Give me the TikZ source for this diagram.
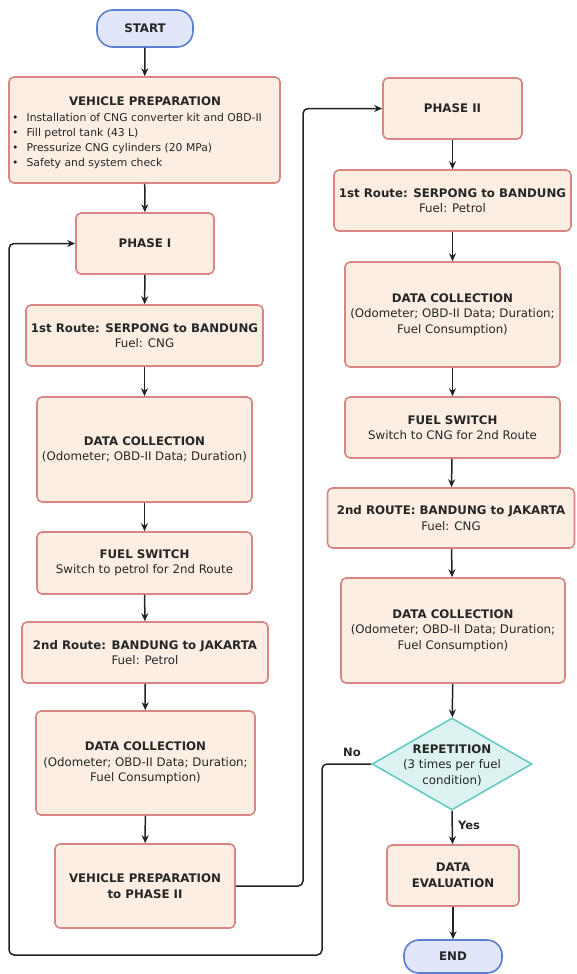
\documentclass[tikz,border=0pt]{standalone}
\usepackage{fontspec}
\setmainfont{DejaVu Sans}
\usetikzlibrary{shapes.geometric, arrows.meta}
\definecolor{boxfill}{HTML}{FCEEE2}
\definecolor{boxdraw}{HTML}{D98682}
\definecolor{diafill}{HTML}{DDF3F1}
\definecolor{diadraw}{HTML}{66CCC2}
\definecolor{termfill}{HTML}{E1E6FA}
\definecolor{termdraw}{HTML}{5A7FD0}
\definecolor{linec}{HTML}{222222}
\definecolor{txt}{HTML}{262626}
\tikzset{
  txtfont/.style={font=\fontsize{11.8}{15.5}\selectfont, text=txt},
  box/.style={draw=boxdraw, fill=boxfill, line width=1.6pt, rounded corners=5pt, align=center, inner sep=2pt, txtfont},
  term/.style={draw=termdraw, fill=termfill, line width=1.6pt, rounded corners=16pt, align=center, txtfont, font=\fontsize{11.8}{15.5}\selectfont\bfseries},
  dia/.style={diamond, draw=diadraw, fill=diafill, line width=1.6pt, inner sep=0pt},
  arr/.style={-{Stealth[length=8pt,width=7pt]}, line width=1.5pt, draw=linec},
  lbl/.style={txtfont, font=\fontsize{11.5}{14}\selectfont\bfseries, inner sep=0pt},
}
\begin{document}
\begin{tikzpicture}[x=1pt, y=-1pt]
\useasboundingbox (0,0) rectangle (576,974);

% left column
\node[term, minimum width=96pt, minimum height=37pt] (start) at (145,28.5) {START};
\node[box, minimum width=271pt, minimum height=106pt] (vp) at (144.5,130) {};
\node[txtfont, inner sep=0pt] (vpt) at (145,101) {\bfseries VEHICLE PREPARATION};
\node[txtfont, inner sep=0pt, align=left, anchor=west, font=\fontsize{10.8}{15}\selectfont] (vpb) at (12,141) {%
\textbullet\hspace{8pt}Installation of CNG converter kit and OBD-II\\
\textbullet\hspace{8pt}Fill petrol tank (43 L)\\
\textbullet\hspace{8pt}Pressurize CNG cylinders (20 MPa)\\
\textbullet\hspace{8pt}Safety and system check};

\node[box, minimum width=138pt, minimum height=61pt] (p1) at (145,243.5) {\bfseries PHASE I};
\node[box, minimum width=237pt, minimum height=61pt] (r1) at (144.5,335.5) {\bfseries 1st Route: SERPONG to BANDUNG\\Fuel: CNG};
\node[box, minimum width=215pt, minimum height=105pt] (dc1) at (144.5,449.5) {\bfseries DATA COLLECTION\\(Odometer; OBD-II Data; Duration)};
\node[box, minimum width=215pt, minimum height=62pt] (fs1) at (144.5,563) {\bfseries FUEL SWITCH\\Switch to petrol for 2nd Route};
\node[box, minimum width=246pt, minimum height=61pt] (r2) at (145,652.5) {\bfseries 2nd Route: BANDUNG to JAKARTA\\Fuel: Petrol};
\node[box, minimum width=219pt, minimum height=104pt] (dc2) at (145.5,763) {\bfseries DATA COLLECTION\\(Odometer; OBD-II Data; Duration;\\Fuel Consumption)};
\node[box, minimum width=180pt, minimum height=84pt] (vp2) at (145,886) {\bfseries VEHICLE PREPARATION\\\bfseries to PHASE II};

% right column
\node[box, minimum width=139pt, minimum height=61pt] (p2) at (452.5,108.5) {\bfseries PHASE II};
\node[box, minimum width=237pt, minimum height=61pt] (r1b) at (452.5,200.5) {\bfseries 1st Route: SERPONG to BANDUNG\\Fuel: Petrol};
\node[box, minimum width=215pt, minimum height=105pt] (dc3) at (452.5,314.5) {\bfseries DATA COLLECTION\\(Odometer; OBD-II Data; Duration;\\Fuel Consumption)};
\node[box, minimum width=215pt, minimum height=61pt] (fs2) at (452.5,427.5) {\bfseries FUEL SWITCH\\Switch to CNG for 2nd Route};
\node[box, minimum width=247pt, minimum height=60pt] (r2b) at (451,518) {\bfseries 2nd ROUTE: BANDUNG to JAKARTA\\Fuel: CNG};
\node[box, minimum width=224pt, minimum height=105pt] (dc4) at (453,630.5) {\bfseries DATA COLLECTION\\(Odometer; OBD-II Data; Duration;\\Fuel Consumption)};
\node[dia, minimum width=160pt, minimum height=92pt] (rep) at (452,764) {};
\node[txtfont, align=center, inner sep=0pt] (rept) at (452,765) {\bfseries REPETITION\\(3 times per fuel\\condition)};
\node[box, minimum width=132pt, minimum height=61pt] (eval) at (453,875.5) {\bfseries DATA\\\bfseries EVALUATION};
\node[term, minimum width=98pt, minimum height=33pt, rounded corners=15pt] (end) at (453,956.5) {END};

% connectors
\draw[arr] (start) -- (vp);
\draw[arr] (vp) -- (p1);
\draw[arr] (p1) -- (r1);
\draw[arr] (r1) -- (dc1);
\draw[arr] (dc1) -- (fs1);
\draw[arr] (fs1) -- (r2);
\draw[arr] (r2) -- (dc2);
\draw[arr] (dc2) -- (vp2);

\coordinate (k1) at (303,886);
\draw[arr, rounded corners=5pt] (vp2.east) -- (k1) |- (p2.west);

\draw[arr] (p2) -- (r1b);
\draw[arr] (r1b) -- (dc3);
\draw[arr] (dc3) -- (fs2);
\draw[arr] (fs2) -- (r2b);
\draw[arr] (r2b) -- (dc4);
\draw[arr] (dc4) -- (rep);

\coordinate (k3) at (322,955);
\coordinate (k4) at (9,955);
\draw[arr, rounded corners=5pt] (rep.west) -| (k3) -- (k4) |- (p1.west);

\draw[arr] (rep.south) -- (eval);
\draw[arr] (eval) -- (end);

\node[lbl] (no) at (352,752) {No};
\node[lbl] (yes) at (469,825) {Yes};
\end{tikzpicture}
\end{document}
